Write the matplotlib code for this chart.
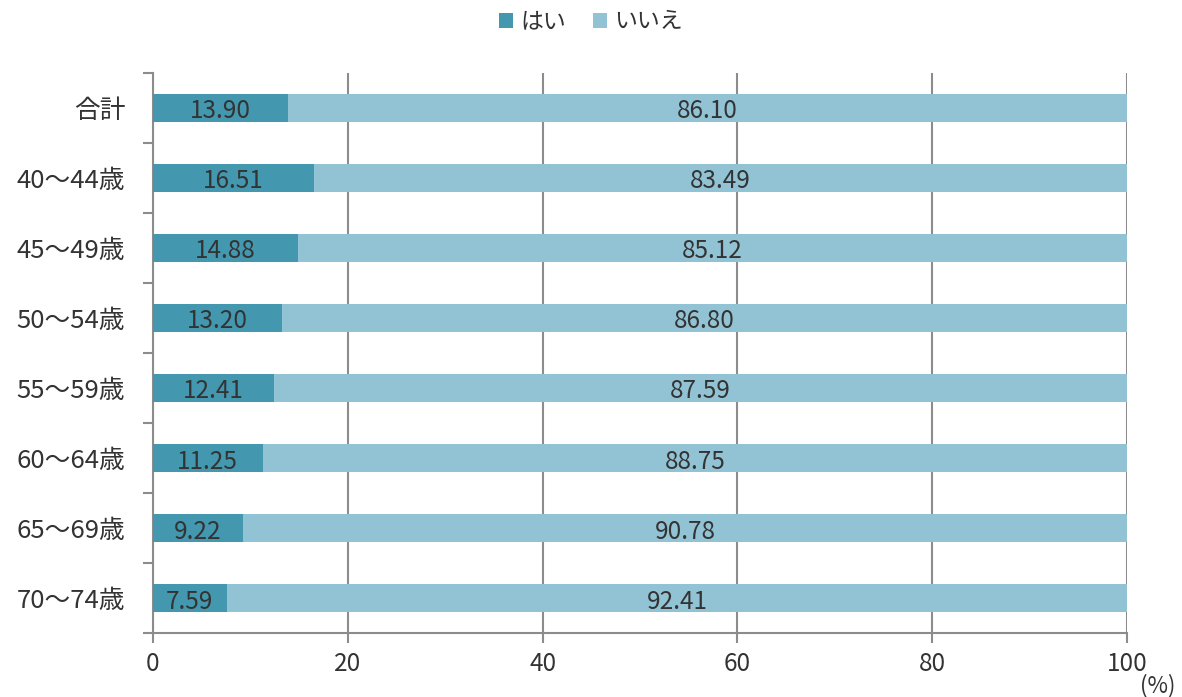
import numpy as np
import matplotlib.pyplot as plt

plt.rcParams['font.family'] = ['Noto Sans CJK JP', 'DejaVu Sans']

## datos
categorias = ['合計', '40～44歳', '45～49歳', '50～54歳', '55～59歳', '60～64歳', '65～69歳', '70～74歳']
hai = [13.90, 16.51, 14.88, 13.20, 12.41, 11.25, 9.22, 7.59]
iie = [86.10, 83.49, 85.12, 86.80, 87.59, 88.75, 90.78, 92.41]
xticks = [0, 20, 40, 60, 80, 100]

c_hai = '#4397ae'
c_iie = '#92c3d5'
c_txt = '#333333'
c_eje = '#8c8c8c'

fig = plt.figure(figsize=(11.82, 6.97), dpi=100)
ax = fig.add_axes([0.1294, 0.0918, 0.8241, 0.8035])

y = np.arange(len(categorias))
b1 = ax.barh(y, hai, height=0.4, color=c_hai, label='はい', zorder=3)
b2 = ax.barh(y, iie, left=hai, height=0.4, color=c_iie, label='いいえ', zorder=3)

## etiquetas de valor en el centro de cada segmento
for i in range(len(categorias)):
    ax.text(hai[i] / 2, y[i] + 0.05, '%.2f' % hai[i], ha='center', va='center',
            fontsize=17.5, color=c_txt, zorder=4)
    ax.text(hai[i] + iie[i] / 2, y[i] + 0.05, '%.2f' % iie[i], ha='center', va='center',
            fontsize=17.5, color=c_txt, zorder=4)

ax.set_xlim(0, 100)
ax.set_ylim(len(categorias) - 0.5, -0.5)
ax.set_xticks(xticks)
ax.set_xticklabels([str(v) for v in xticks], fontsize=17.5, color=c_txt)
ax.set_yticks(y)
ax.set_yticklabels(categorias, fontsize=18.5, color=c_txt)
ax.set_yticks(np.arange(len(categorias) + 1) - 0.5, minor=True)
ax.tick_params(axis='y', which='major', length=0, pad=20)
ax.tick_params(axis='y', which='minor', length=7, width=1.5, color=c_eje)
ax.tick_params(axis='x', length=7, width=1.5, color=c_eje, pad=6)

ax.grid(axis='x', color=c_eje, linewidth=1.5, zorder=1)
for s in ['top', 'right']:
    ax.spines[s].set_visible(False)
for s in ['left', 'bottom']:
    ax.spines[s].set_color(c_eje)
    ax.spines[s].set_linewidth(1.5)

ax.text(1.013, -0.093, '(%)', transform=ax.transAxes, fontsize=16,
        color=c_txt, ha='left', va='center')

fig.legend(handles=[b1, b2], loc='center', bbox_to_anchor=(0.5, 1 - 22 / 697),
           ncol=2, frameon=False, fontsize=16.5, handlelength=0.6, handleheight=0.6,
           handletextpad=0.3, columnspacing=1.2, labelcolor=c_txt)

plt.savefig('out.png')
